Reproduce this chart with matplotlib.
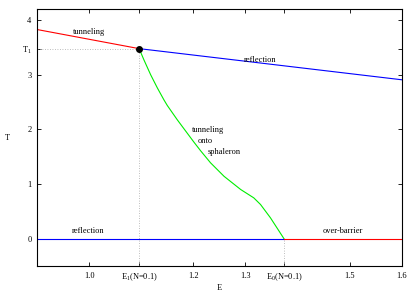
import matplotlib
matplotlib.use("Agg")
import matplotlib.pyplot as plt

plt.rcParams['font.family'] = ['Liberation Serif', 'DejaVu Serif']
plt.rcParams['mathtext.fontset'] = 'custom'
plt.rcParams['mathtext.rm'] = 'Liberation Serif'
plt.rcParams['mathtext.it'] = 'Liberation Serif'
plt.rcParams['mathtext.default'] = 'regular'

# Data
E1 = 1.096
T1 = 3.48
E0 = 1.374

tunnel_E = [0.9, E1]
tunnel_T = [3.83, T1]

reflect_E = [E1, 1.31, 1.6]
reflect_T = [T1, 3.238, 2.91]

sph_E = [E1, 1.1054, 1.1182, 1.131, 1.1437, 1.150, 1.169, 1.1885, 1.201, 1.214,
         1.233, 1.259, 1.291, 1.316, 1.329, 1.348, E0]
sph_T = [T1, 3.27, 3.00, 2.76, 2.54, 2.44, 2.18, 1.93, 1.77, 1.61,
         1.39, 1.142, 0.90, 0.748, 0.626, 0.383, 0.0]

low_reflect_E = [0.9, E0]
low_reflect_T = [0.0, 0.0]
over_E = [E0, 1.6]
over_T = [0.0, 0.0]

xticks = [1.0, E1, 1.2, 1.3, E0, 1.5, 1.6]
xticklabels = ['1.0', 'E$_1$(N=0.1)', '1.2', '1.3', 'E$_0$(N=0.1)', '1.5', '1.6']
yticks = [0, 1, 2, 3, T1, 4]
yticklabels = ['0', '1', '2', '3', 'T$_1$', '4']

fig = plt.figure(figsize=(4.15, 2.91), dpi=100)
ax = fig.add_axes([0.0892, 0.0859, 0.968 - 0.0892, 0.968 - 0.0859])

fs = 6
grey = '#a8a8a8'
ax.plot([0.9, E1], [T1, T1], color=grey, lw=0.6, ls=(0, (1, 2)))
ax.plot([E1, E1], [-0.5, T1], color=grey, lw=0.6, ls=(0, (1, 2)))
ax.plot([E0, E0], [-0.5, 0], color=grey, lw=0.6, ls=(0, (1, 2)))

ax.plot(tunnel_E, tunnel_T, color='#ff0000', lw=0.8)
ax.plot(reflect_E, reflect_T, color='#0000ff', lw=0.8)
ax.plot(sph_E, sph_T, color='#00ee00', lw=0.8)
ax.plot(low_reflect_E, low_reflect_T, color='#0000ff', lw=0.8)
ax.plot(over_E, over_T, color='#ff0000', lw=0.8)
ax.plot([E1], [T1], 'o', color='black', ms=4)

ax.text(1.0, 3.78, 'tunneling', fontsize=fs, ha='center', va='center')
ax.text(1.329, 3.28, 'reflection', fontsize=fs, ha='center', va='center')
ax.text(1.229, 1.99, 'tunneling', fontsize=fs, ha='center', va='center')
ax.text(1.223, 1.79, 'onto', fontsize=fs, ha='center', va='center')
ax.text(1.26, 1.59, 'sphaleron', fontsize=fs, ha='center', va='center')
ax.text(0.998, 0.15, 'reflection', fontsize=fs, ha='center', va='center')
ax.text(1.487, 0.14, 'over-barrier', fontsize=fs, ha='center', va='center')

ax.set_xlim(0.9, 1.6)
ax.set_ylim(-0.5, 4.2)
ax.set_xticks(xticks)
ax.set_xticklabels(xticklabels)
ax.set_yticks(yticks)
ax.set_yticklabels(yticklabels)
ax.tick_params(direction='in', length=3, width=0.6, labelsize=fs,
               top=True, right=True, pad=4)
for s in ax.spines.values():
    s.set_linewidth(0.8)

ax.set_xlabel('E', fontsize=fs, va='center')
ax.xaxis.set_label_coords(0.5, -0.0857)
ax.set_ylabel('T', fontsize=fs, rotation=0, va='center', ha='center')
ax.yaxis.set_label_coords(-0.08, 0.5)

fig.savefig('out.png', dpi=100)
